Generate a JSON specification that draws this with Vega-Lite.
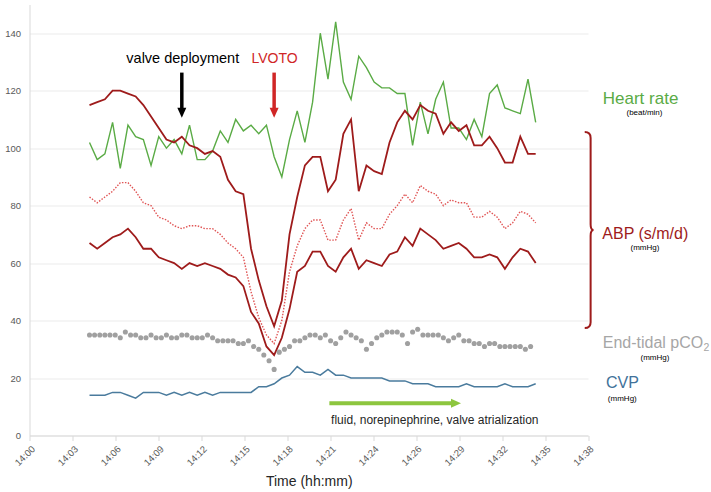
{
 "$schema": "https://vega.github.io/schema/vega-lite/v6.json",
 "width": 558.5,
 "height": 431,
 "autosize": {"type": "none"},
 "padding": {"left": 29.5, "top": 4.5, "right": 123, "bottom": 56.5},
 "background": "white",
 "config": {
  "view": {"stroke": null},
  "font": "Liberation Sans",
  "axisY": {"tickCount": 8, "grid": true, "gridColor": "#ebebeb", "domainColor": "#d9d9d9", "ticks": false, "labelFontSize": 9.5, "labelColor": "#595959", "labelPadding": 9}
 },
 "datasets": {
  "vitals": [
   {"t":4.0,"hr":102,"sys":115,"mean":83,"dia":67,"cvp":14},
   {"t":4.5,"hr":96,"sys":116,"mean":81,"dia":65,"cvp":14},
   {"t":5.0,"hr":98,"sys":117,"mean":83,"dia":67,"cvp":14},
   {"t":5.5,"hr":109,"sys":120,"mean":85,"dia":69,"cvp":15},
   {"t":6.0,"hr":93,"sys":120,"mean":88,"dia":70,"cvp":15},
   {"t":6.5,"hr":108,"sys":119,"mean":88,"dia":72,"cvp":14},
   {"t":7.0,"hr":104,"sys":118,"mean":85,"dia":69,"cvp":13},
   {"t":7.5,"hr":103,"sys":115,"mean":81,"dia":65,"cvp":15},
   {"t":8.0,"hr":94,"sys":111,"mean":80,"dia":65,"cvp":15},
   {"t":8.5,"hr":104,"sys":107,"mean":76,"dia":62,"cvp":15},
   {"t":9.0,"hr":100,"sys":103,"mean":75,"dia":61,"cvp":14},
   {"t":9.5,"hr":103,"sys":102,"mean":73,"dia":60,"cvp":15},
   {"t":10.0,"hr":98,"sys":104,"mean":72,"dia":58,"cvp":14},
   {"t":10.5,"hr":108,"sys":101,"mean":73,"dia":60,"cvp":15},
   {"t":11.0,"hr":96,"sys":100,"mean":73,"dia":59,"cvp":14},
   {"t":11.5,"hr":96,"sys":98,"mean":72,"dia":60,"cvp":15},
   {"t":12.0,"hr":99,"sys":99,"mean":72,"dia":59,"cvp":14},
   {"t":12.5,"hr":106,"sys":97,"mean":70,"dia":58,"cvp":15},
   {"t":13.0,"hr":102,"sys":89,"mean":67,"dia":56,"cvp":15},
   {"t":13.5,"hr":110,"sys":85,"mean":65,"dia":55,"cvp":15},
   {"t":14.0,"hr":106,"sys":84,"mean":62,"dia":52,"cvp":15},
   {"t":14.5,"hr":108,"sys":65,"mean":50,"dia":43,"cvp":15},
   {"t":15.0,"hr":105,"sys":54,"mean":41,"dia":39,"cvp":17},
   {"t":15.5,"hr":108,"sys":45,"mean":35,"dia":31,"cvp":17},
   {"t":16.0,"hr":97,"sys":38,"mean":32,"dia":28,"cvp":18},
   {"t":16.5,"hr":90,"sys":47,"mean":40,"dia":34,"cvp":20},
   {"t":17.0,"hr":103,"sys":70,"mean":57,"dia":44,"cvp":21},
   {"t":17.5,"hr":113,"sys":83,"mean":66,"dia":57,"cvp":24},
   {"t":18.0,"hr":102,"sys":94,"mean":72,"dia":59,"cvp":22},
   {"t":18.5,"hr":116,"sys":97,"mean":75,"dia":64,"cvp":22},
   {"t":19.0,"hr":140,"sys":97,"mean":75,"dia":64,"cvp":21},
   {"t":19.5,"hr":124,"sys":85,"mean":68,"dia":59,"cvp":23},
   {"t":20.0,"hr":144,"sys":89,"mean":68,"dia":57,"cvp":21},
   {"t":20.5,"hr":123,"sys":105,"mean":75,"dia":62,"cvp":21},
   {"t":21.0,"hr":117,"sys":110,"mean":79,"dia":65,"cvp":20},
   {"t":21.5,"hr":132,"sys":85,"mean":68,"dia":58,"cvp":20},
   {"t":22.0,"hr":128,"sys":94,"mean":74,"dia":61,"cvp":20},
   {"t":22.5,"hr":123,"sys":92,"mean":72,"dia":60,"cvp":20},
   {"t":23.0,"hr":121,"sys":91,"mean":72,"dia":59,"cvp":20},
   {"t":23.5,"hr":121,"sys":102,"mean":77,"dia":63,"cvp":19},
   {"t":24.0,"hr":119,"sys":109,"mean":80,"dia":64,"cvp":19},
   {"t":24.5,"hr":119,"sys":113,"mean":84,"dia":69,"cvp":19},
   {"t":25.0,"hr":101,"sys":110,"mean":81,"dia":66,"cvp":18},
   {"t":25.5,"hr":116,"sys":115,"mean":87,"dia":72,"cvp":18},
   {"t":26.0,"hr":105,"sys":113,"mean":85,"dia":70,"cvp":18},
   {"t":26.5,"hr":117,"sys":112,"mean":84,"dia":68,"cvp":17},
   {"t":27.0,"hr":123,"sys":105,"mean":80,"dia":65,"cvp":17},
   {"t":27.5,"hr":107,"sys":109,"mean":82,"dia":66,"cvp":17},
   {"t":28.0,"hr":107,"sys":106,"mean":81,"dia":67,"cvp":17},
   {"t":28.5,"hr":103,"sys":108,"mean":81,"dia":65,"cvp":18},
   {"t":29.0,"hr":110,"sys":101,"mean":76,"dia":62,"cvp":17},
   {"t":29.5,"hr":104,"sys":101,"mean":76,"dia":62,"cvp":17},
   {"t":30.0,"hr":119,"sys":104,"mean":78,"dia":63,"cvp":17},
   {"t":30.5,"hr":122,"sys":100,"mean":76,"dia":62,"cvp":17},
   {"t":31.0,"hr":114,"sys":95,"mean":72,"dia":58,"cvp":18},
   {"t":31.5,"hr":113,"sys":95,"mean":74,"dia":62,"cvp":17},
   {"t":32.0,"hr":112,"sys":104,"mean":78,"dia":65,"cvp":17},
   {"t":32.5,"hr":124,"sys":98,"mean":77,"dia":64,"cvp":17},
   {"t":33.0,"hr":109,"sys":98,"mean":74,"dia":60,"cvp":18}
  ],
  "pco2": [
   {"t":4.00,"v":35},{"t":4.33,"v":35},{"t":4.67,"v":35},{"t":5.00,"v":35},{"t":5.33,"v":35},{"t":5.67,"v":35},
   {"t":6.00,"v":34},{"t":6.33,"v":36},{"t":6.67,"v":35},{"t":7.00,"v":35},{"t":7.33,"v":34},{"t":7.67,"v":34},
   {"t":8.00,"v":35},{"t":8.33,"v":34},{"t":8.67,"v":34},{"t":9.00,"v":35},{"t":9.33,"v":34},{"t":9.67,"v":34},
   {"t":10.00,"v":35},{"t":10.33,"v":35},{"t":10.67,"v":34},{"t":11.00,"v":34},{"t":11.33,"v":34},{"t":11.67,"v":35},
   {"t":12.00,"v":34},{"t":12.33,"v":33},{"t":12.67,"v":33},{"t":13.00,"v":33},{"t":13.33,"v":33},{"t":13.67,"v":32},
   {"t":14.00,"v":32},{"t":14.33,"v":33},{"t":14.67,"v":31},{"t":15.00,"v":30},{"t":15.33,"v":28},{"t":15.67,"v":26},
   {"t":16.00,"v":23},{"t":16.33,"v":29},{"t":16.67,"v":30},{"t":17.00,"v":31},{"t":17.33,"v":33},{"t":17.67,"v":33},
   {"t":18.00,"v":34},{"t":18.33,"v":35},{"t":18.67,"v":35},{"t":19.00,"v":34},{"t":19.33,"v":35},{"t":19.67,"v":33},
   {"t":20.00,"v":32},{"t":20.33,"v":34},{"t":20.67,"v":36},{"t":21.00,"v":35},{"t":21.33,"v":34},{"t":21.67,"v":33},
   {"t":22.00,"v":30},{"t":22.33,"v":32},{"t":22.67,"v":34},{"t":23.00,"v":35},{"t":23.33,"v":36},{"t":23.67,"v":36},
   {"t":24.00,"v":36},{"t":24.33,"v":35},{"t":24.67,"v":32},{"t":25.00,"v":36},{"t":25.33,"v":37},{"t":25.67,"v":35},
   {"t":26.00,"v":35},{"t":26.33,"v":35},{"t":26.67,"v":35},{"t":27.00,"v":34},{"t":27.33,"v":33},{"t":27.67,"v":34},
   {"t":28.00,"v":35},{"t":28.33,"v":33},{"t":28.67,"v":33},{"t":29.00,"v":32},{"t":29.33,"v":32},{"t":29.67,"v":31},
   {"t":30.00,"v":32},{"t":30.33,"v":32},{"t":30.67,"v":31},{"t":31.00,"v":31},{"t":31.33,"v":31},{"t":31.67,"v":31},
   {"t":32.00,"v":31},{"t":32.33,"v":30},{"t":32.67,"v":31}
  ]
 },
 "encoding": {
  "x": {
   "field": "t", "type": "quantitative",
   "scale": {"domain": [0.1, 36.4], "nice": false, "zero": false},
   "axis": {
    "title": "Time (hh:mm)", "titleFontSize": 14, "titleFontWeight": "normal", "titleColor": "#262626", "titlePadding": 7,
    "values": [0.1, 2.8923, 5.6846, 8.4769, 11.2692, 14.0615, 16.8538, 19.6462, 22.4385, 25.2308, 28.0231, 30.8154, 33.6077, 36.4],
    "labelExpr": "['14:00','14:03','14:06','14:09','14:12','14:15','14:18','14:21','14:24','14:26','14:29','14:32','14:35','14:38'][round((datum.value-0.1)/2.7923)]",
    "labelAngle": -45, "labelFontSize": 9.5, "labelColor": "#595959", "labelPadding": 3,
    "grid": false, "domainColor": "#d9d9d9", "tickColor": "#d9d9d9", "tickSize": 5, "labelFlush": false, "labelOverlap": false
   }
  }
 },
 "layer": [
  {"data": {"name": "vitals"}, "mark": {"type": "line", "color": "#5aab45", "strokeWidth": 1.4},
   "encoding": {"y": {"field": "hr", "type": "quantitative", "title": null, "scale": {"domain": [0, 150], "nice": false},
    "axis": {"values": [0, 20, 40, 60, 80, 100, 120, 140]}}}},
  {"data": {"name": "vitals"}, "mark": {"type": "line", "color": "#9e1b1b", "strokeWidth": 1.8},
   "encoding": {"y": {"field": "sys", "type": "quantitative", "title": null}}},
  {"data": {"name": "vitals"}, "mark": {"type": "line", "color": "#e05555", "strokeWidth": 1.4, "strokeDash": [1.5, 1.5]},
   "encoding": {"y": {"field": "mean", "type": "quantitative", "title": null}}},
  {"data": {"name": "vitals"}, "mark": {"type": "line", "color": "#9e1b1b", "strokeWidth": 1.8},
   "encoding": {"y": {"field": "dia", "type": "quantitative", "title": null}}},
  {"data": {"name": "vitals"}, "mark": {"type": "line", "color": "#4a7b9d", "strokeWidth": 1.5},
   "encoding": {"y": {"field": "cvp", "type": "quantitative", "title": null}}},
  {"data": {"name": "pco2"}, "mark": {"type": "circle", "color": "#a0a0a0", "size": 26, "opacity": 1},
   "encoding": {"y": {"field": "v", "type": "quantitative", "title": null}}},
  {"data": {"values": [{"t": 10, "v": 126.3, "v2": 113}]}, "mark": {"type": "rule", "color": "#000000", "strokeWidth": 3.5},
   "encoding": {"y": {"field": "v", "type": "quantitative", "title": null}, "y2": {"field": "v2"}}},
  {"data": {"values": [{"t": 16, "v": 126.3, "v2": 113}]}, "mark": {"type": "rule", "color": "#d02626", "strokeWidth": 3.5},
   "encoding": {"y": {"field": "v", "type": "quantitative", "title": null}, "y2": {"field": "v2"}}},
  {"data": {"values": [{"t": 10, "v": 112.3}]}, "mark": {"type": "point", "shape": "M -0.9 -1 L 0.9 -1 L 0 1 Z", "size": 100, "filled": true, "opacity": 1, "color": "#000000", "strokeWidth": 0},
   "encoding": {"y": {"field": "v", "type": "quantitative", "title": null}}},
  {"data": {"values": [{"t": 16, "v": 112.3}]}, "mark": {"type": "point", "shape": "M -0.9 -1 L 0.9 -1 L 0 1 Z", "size": 100, "filled": true, "opacity": 1, "color": "#d02626", "strokeWidth": 0},
   "encoding": {"y": {"field": "v", "type": "quantitative", "title": null}}},
  {"data": {"values": [{"t": 19.59, "t2": 27.62, "v": 11.2}]}, "mark": {"type": "rule", "color": "#8dc63f", "strokeWidth": 4},
   "encoding": {"x2": {"field": "t2"}, "y": {"field": "v", "type": "quantitative", "title": null}}},
  {"data": {"values": [{"t": 27.82, "v": 11.2}]}, "mark": {"type": "point", "shape": "M -1 -0.9 L 1 0 L -1 0.9 Z", "size": 100, "filled": true, "opacity": 1, "color": "#8dc63f", "strokeWidth": 0},
   "encoding": {"y": {"field": "v", "type": "quantitative", "title": null}}},
  {"data": {"values": [{"t": 36.57, "v": 71.5}]}, "mark": {"type": "point", "shape": "M -0.06 -1 Q 0 -1 0 -0.94 L 0 -0.06 Q 0 0 0.03 0 Q 0 0 0 0.06 L 0 0.94 Q 0 1 -0.06 1", "size": 38416, "filled": false, "opacity": 1, "color": "#9e1b1b", "strokeWidth": 2},
   "encoding": {"y": {"field": "v", "type": "quantitative", "title": null}}},
  {"data": {"values": [{"t": 10.06, "v": 129.5, "label": "valve deployment"}]}, "mark": {"type": "text", "fontSize": 14.5, "color": "#000000", "align": "center", "baseline": "alphabetic"},
   "encoding": {"y": {"field": "v", "type": "quantitative", "title": null}, "text": {"field": "label"}}},
  {"data": {"values": [{"t": 16.03, "v": 129.5, "label": "LVOTO"}]}, "mark": {"type": "text", "fontSize": 14, "color": "#d02626", "align": "center", "baseline": "alphabetic"},
   "encoding": {"y": {"field": "v", "type": "quantitative", "title": null}, "text": {"field": "label"}}},
  {"data": {"values": [{"t": 19.7, "v": 4.0, "label": "fluid, norepinephrine, valve atrialization"}]}, "mark": {"type": "text", "fontSize": 12, "color": "#262626", "align": "left", "baseline": "alphabetic"},
   "encoding": {"y": {"field": "v", "type": "quantitative", "title": null}, "text": {"field": "label"}}},
  {"data": {"values": [{"t": 37.36, "v": 115.4, "label": "Heart rate"}]}, "mark": {"type": "text", "fontSize": 17, "color": "#5aab45", "align": "left", "baseline": "alphabetic"},
   "encoding": {"y": {"field": "v", "type": "quantitative", "title": null}, "text": {"field": "label"}}},
  {"data": {"values": [{"t": 37.33, "v": 68.4, "label": "ABP (s/m/d)"}]}, "mark": {"type": "text", "fontSize": 16, "color": "#9e1b1b", "align": "left", "baseline": "alphabetic"},
   "encoding": {"y": {"field": "v", "type": "quantitative", "title": null}, "text": {"field": "label"}}},
  {"data": {"values": [{"t": 37.36, "v": 30.5, "label": "End-tidal pCO"}]}, "mark": {"type": "text", "fontSize": 16, "color": "#a6a6a6", "align": "left", "baseline": "alphabetic"},
   "encoding": {"y": {"field": "v", "type": "quantitative", "title": null}, "text": {"field": "label"}}},
  {"data": {"values": [{"t": 43.91, "v": 29.4, "label": "2"}]}, "mark": {"type": "text", "fontSize": 10.5, "color": "#a6a6a6", "align": "left", "baseline": "alphabetic"},
   "encoding": {"y": {"field": "v", "type": "quantitative", "title": null}, "text": {"field": "label"}}},
  {"data": {"values": [{"t": 37.57, "v": 16.5, "label": "CVP"}]}, "mark": {"type": "text", "fontSize": 16, "color": "#41729a", "align": "left", "baseline": "alphabetic"},
   "encoding": {"y": {"field": "v", "type": "quantitative", "title": null}, "text": {"field": "label"}}},
  {"data": {"values": [
    {"t": 40.07, "v": 111.4, "label": "(beat/min)"},
    {"t": 40.10, "v": 64.7, "label": "(mmHg)"},
    {"t": 40.75, "v": 26.3, "label": "(mmHg)"},
    {"t": 38.63, "v": 12.0, "label": "(mmHg)"}
   ]}, "mark": {"type": "text", "fontSize": 8, "color": "#000000", "align": "center", "baseline": "alphabetic"},
   "encoding": {"y": {"field": "v", "type": "quantitative", "title": null}, "text": {"field": "label"}}}
 ]
}
